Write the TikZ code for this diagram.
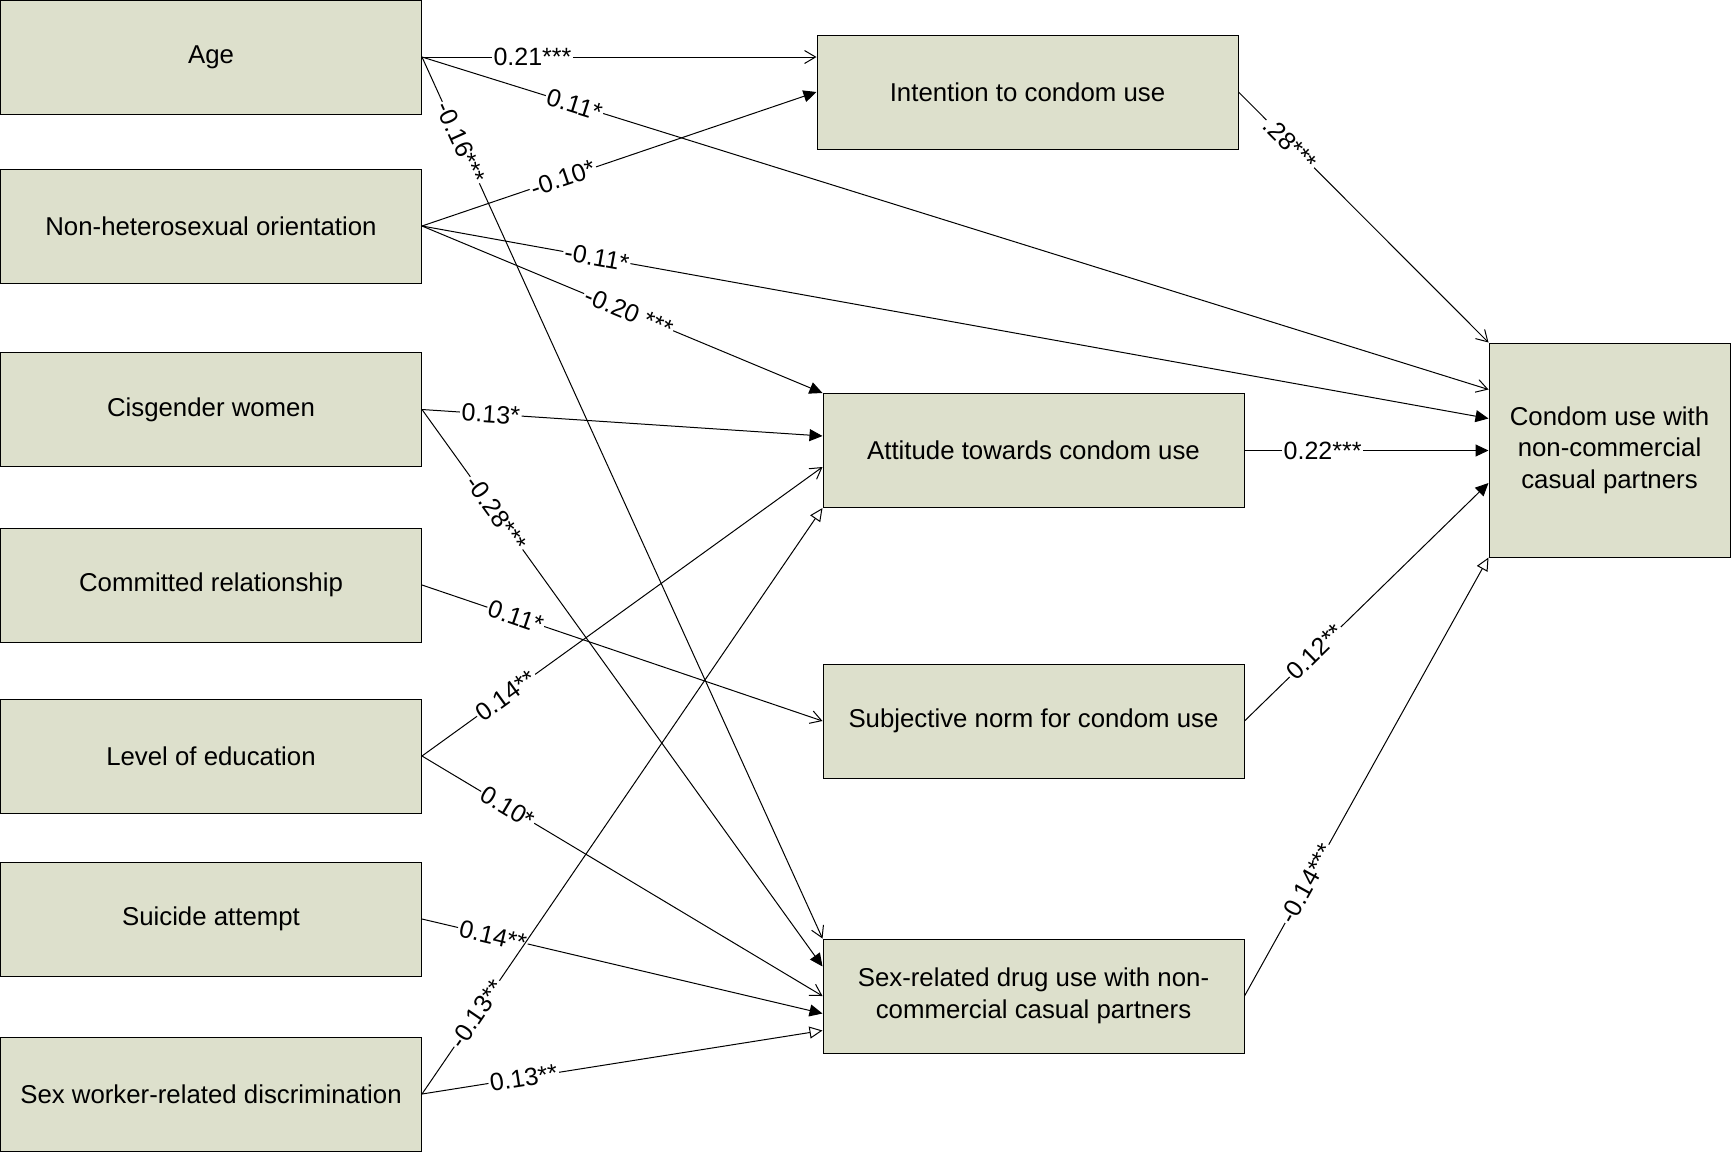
\documentclass[tikz,border=0pt]{standalone}
\usepackage{fontspec}
\setmainfont{Liberation Sans}
\usetikzlibrary{arrows.meta,calc}
\definecolor{boxfill}{RGB}{221,224,204}
\begin{document}
\begin{tikzpicture}[x=0.5pt,y=-0.5pt,
  box/.style={draw=black, line width=0.5pt, fill=boxfill, minimum width=210.5pt, minimum height=57pt, inner sep=2pt, align=center, font=\fontsize{12.9}{15.7}\selectfont},
  lab/.style={fill=white, inner sep=0.8pt, font=\fontsize{12.5}{14}\selectfont, sloped},
  edge/.style={line width=0.5pt, draw=black},
  stick/.style={-{Straight Barb[length=5.5pt,width=6.5pt]}},
  filltip/.style={-{Triangle[length=6.5pt,width=6pt]}},
  opentip/.style={-{Triangle[open,length=6.5pt,width=6pt,fill=white]}}
]
\useasboundingbox (0,0) rectangle (1731,1152);
% left column
\node[box] (age)       at (211,57)    {Age};
\node[box] (nonhet)    at (211,226)   {Non-heterosexual orientation};
\node[box] (cis)       at (211,409.5) {Cisgender women};
\node[box] (committed) at (211,585)   {Committed relationship};
\node[box] (level)     at (211,756)   {Level of education};
\node[box] (suicide)   at (211,919)   {Suicide attempt};
\node[box] (sexwork)   at (211,1094)  {Sex worker-related discrimination};
% middle column
\node[box] (intention) at (1027.5,92)  {Intention to condom use};
\node[box] (attitude)  at (1033.5,450.5) {Attitude towards condom use};
\node[box] (subjnorm)  at (1033.5,721) {Subjective norm for condom use};
\node[box] (drug)      at (1033.5,996) {Sex-related drug use with non-\\commercial casual partners};
% right
\node[box, minimum width=120.5pt, minimum height=107pt] (condom) at (1609.5,450) {Condom use with\\non-commercial\\casual partners};
% edges
\draw[edge,stick] (age.east) -- node[lab,pos=0.28]{0.21***} (intention.west |- age.east);
\draw[edge,stick] (age.east) -- node[lab,pos=0.143]{0.11*} ($(condom.north west)+(0,47)$);
\draw[edge,stick] (age.east) -- node[lab,pos=0.097]{-0.16***} (drug.north west);
\draw[edge,filltip] (nonhet.east) -- node[lab,pos=0.357]{-0.10*} (intention.west);
\draw[edge,filltip] (nonhet.east) -- node[lab,pos=0.164]{-0.11*} ($(condom.north west)+(0,76)$);
\draw[edge,filltip] (nonhet.east) -- node[lab,pos=0.516]{-0.20 ***} (attitude.north west);
\draw[edge,filltip] (cis.east) -- node[lab,pos=0.172]{0.13*} ($(attitude.north west)+(0,43)$);
\draw[edge,filltip] (cis.east) -- node[lab,pos=0.186]{-0.28***} ($(drug.north west)+(0,28)$);
\draw[edge,stick] (committed.east) -- node[lab,pos=0.234]{0.11*} (subjnorm.west);
\draw[edge,stick] (level.east) -- node[lab,pos=0.21]{0.14**} ($(attitude.north west)+(0,74)$);
\draw[edge,stick] (level.east) -- node[lab,pos=0.214]{0.10*} (drug.west);
\draw[edge,filltip] (suicide.east) -- node[lab,pos=0.177]{0.14**} ($(drug.north west)+(0,75)$);
\draw[edge,opentip] (sexwork.east) -- node[lab,pos=0.254]{0.13**} ($(drug.north west)+(0,92)$);
\draw[edge,opentip] (sexwork.east) -- node[lab,pos=0.137]{-0.13**} (attitude.south west);
\draw[edge,stick] (intention.east) -- node[lab,pos=0.207]{.28***} (condom.north west);
\draw[edge,filltip] (attitude.east) -- node[lab,pos=0.32]{0.22***} (condom.west |- attitude.east);
\draw[edge,filltip] (subjnorm.east) -- node[lab,pos=0.29]{0.12**} ($(condom.west)+(0,33)$);
\draw[edge,opentip] (drug.east) -- node[lab,pos=0.256]{-0.14***} (condom.south west);
\end{tikzpicture}
\end{document}
